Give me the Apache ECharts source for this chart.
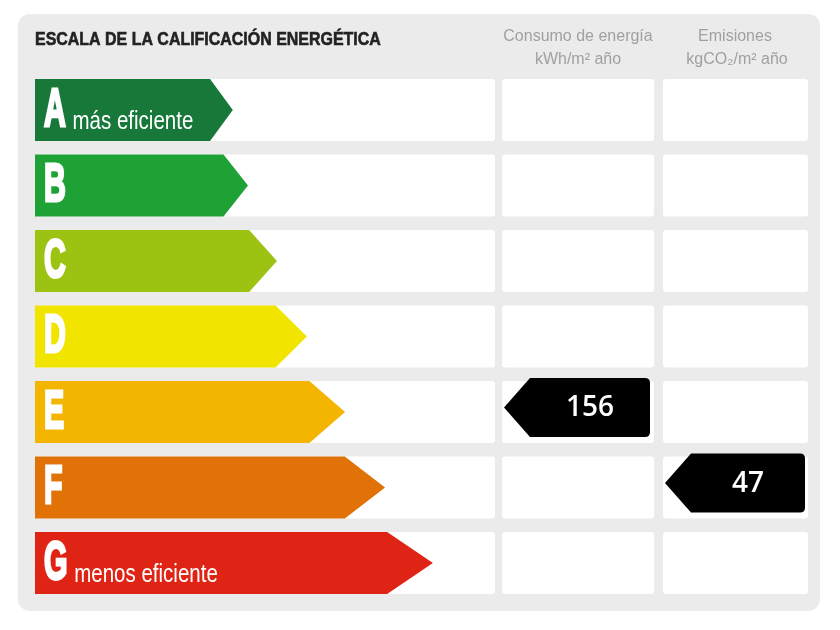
<!DOCTYPE html>
<html>
<head>
<meta charset="utf-8">
<script src="https://cdn.jsdelivr.net/npm/echarts@6/dist/echarts.min.js"></script>
<style>
  html, body { margin: 0; padding: 0; background: #fff; }
  #chart { width: 840px; height: 630px; }
</style>
</head>
<body>
<div id="chart"></div>
<script type="text/javascript">
  // escala de calificación
  var clases = ['A', 'B', 'C', 'D', 'E', 'F', 'G'];
  var subtitulos = ['más eficiente', '', '', '', '', '', 'menos eficiente'];
  // largo de cada flecha, en % de la primera columna
  var longitudFlecha = [43, 46.3, 52.6, 59.1, 67.4, 76.1, 86.5];
  var colores = ['#17783a', '#1ea236', '#9cc212', '#f1e500', '#f3b500', '#e07208', '#df2416'];
  // valores del certificado
  var consumoValor = [156];
  var consumoClase = ['E'];
  var emisionesValor = [47];
  var emisionesClase = ['F'];

  var chart = echarts.init(document.getElementById('chart'));

  var ctx = document.createElement('canvas').getContext('2d');
  function ancho(texto, font) {
    ctx.font = font;
    return ctx.measureText(texto).width;
  }

  var FUENTE_LETRA = 'bold 54px "Liberation Sans"';
  var ESCALA_LETRA = 0.56;
  var ALTO_FILA = 62;

  // dibuja una etiqueta negra con punta a la izquierda
  function etiqueta(xIzq, xDer, yc, valor) {
    var top = yc - ALTO_FILA / 2 - 3;
    var bot = top + 59;
    var mid = (top + bot) / 2;
    var punta = 26, r = 5;
    var d = 'M' + xIzq + ' ' + mid +
      ' L' + (xIzq + punta) + ' ' + top +
      ' L' + (xDer - r) + ' ' + top +
      ' Q' + xDer + ' ' + top + ' ' + xDer + ' ' + (top + r) +
      ' L' + xDer + ' ' + (bot - r) +
      ' Q' + xDer + ' ' + bot + ' ' + (xDer - r) + ' ' + bot +
      ' L' + (xIzq + punta) + ' ' + bot + ' Z';
    return [{
      type: 'path',
      shape: { pathData: d },
      style: { fill: '#000' }
    }, {
      type: 'text',
      x: (xIzq + punta + xDer) / 2,
      y: mid + 1,
      style: {
        text: String(valor), fill: '#fff',
        font: '600 28px "Open Sans"',
        align: 'center', verticalAlign: 'middle'
      }
    }];
  }

  function renderItem(params, api) {
    var i = api.value(1);
    var p0 = api.coord([0, i]);
    var pt = api.coord([api.value(0), i]);
    var p100 = api.coord([100, i]);
    var yc = p0[1];
    var top = yc - ALTO_FILA / 2;
    var x0 = p0[0], xt = pt[0];
    var d = (xt - x0) * 0.115;
    var hijos = [];

    // celdas blancas
    [[x0, p100[0]], [502, 654], [663, 808]].forEach(function (c) {
      hijos.push({
        type: 'rect',
        shape: { x: c[0], y: top, width: c[1] - c[0], height: ALTO_FILA, r: 3 },
        style: { fill: '#fff' }
      });
    });

    // flecha
    hijos.push({
      type: 'polygon',
      shape: { points: [[x0, top], [xt - d, top], [xt, yc], [xt - d, top + ALTO_FILA], [x0, top + ALTO_FILA]] },
      style: { fill: colores[i] }
    });

    // letra
    var xl = x0 + 9;
    hijos.push({
      type: 'text',
      x: xl, y: yc + 1,
      scaleX: ESCALA_LETRA,
      style: {
        text: clases[i], fill: '#fff', stroke: '#fff', lineWidth: 3,
        font: FUENTE_LETRA, align: 'left', verticalAlign: 'middle'
      }
    });

    if (subtitulos[i]) {
      hijos.push({
        type: 'text',
        x: xl + (ancho(clases[i], FUENTE_LETRA) + 3) * ESCALA_LETRA + 5,
        y: yc + 12,
        scaleX: 0.82,
        style: { text: subtitulos[i], fill: '#fff', font: '25px "Liberation Sans"', align: 'left', verticalAlign: 'middle' }
      });
    }

    consumoClase.forEach(function (c, k) {
      if (c === clases[i]) hijos = hijos.concat(etiqueta(504, 650, yc, consumoValor[k]));
    });
    emisionesClase.forEach(function (c, k) {
      if (c === clases[i]) hijos = hijos.concat(etiqueta(665, 805, yc, emisionesValor[k]));
    });

    return { type: 'group', children: hijos };
  }

  var textoGris = { fill: '#a0a0a0', font: '16px "Liberation Sans"', align: 'center', verticalAlign: 'middle' };

  var option = {
    animation: false,
    grid: { left: 35, right: 345, top: 72.25, bottom: 29.25 },
    xAxis: { type: 'value', min: 0, max: 100, show: false },
    yAxis: { type: 'category', data: clases, inverse: true, show: false },
    graphic: [
      {
        type: 'rect', z: -10,
        shape: { x: 18, y: 14, width: 802, height: 597, r: 12 },
        style: { fill: '#ebebeb' }
      },
      {
        type: 'text', x: 35, y: 40, scaleX: 0.84,
        style: {
          text: 'ESCALA DE LA CALIFICACIÓN ENERGÉTICA', fill: '#222', stroke: '#222', lineWidth: 0.6,
          font: 'bold 19px "Liberation Sans"', align: 'left', verticalAlign: 'middle'
        }
      },
      { type: 'text', x: 578, y: 37, style: Object.assign({ text: 'Consumo de energía' }, textoGris) },
      { type: 'text', x: 578, y: 60, style: Object.assign({ text: 'kWh/m² año' }, textoGris) },
      { type: 'text', x: 735, y: 37, style: Object.assign({ text: 'Emisiones' }, textoGris) },
      { type: 'text', x: 737, y: 60, style: Object.assign({ text: 'kgCO₂/m² año' }, textoGris) }
    ],
    series: [{
      type: 'custom',
      renderItem: renderItem,
      encode: { x: 0, y: 1 },
      data: clases.map(function (c, i) { return [longitudFlecha[i], i]; })
    }]
  };

  chart.setOption(option);
</script>
</body>
</html>
